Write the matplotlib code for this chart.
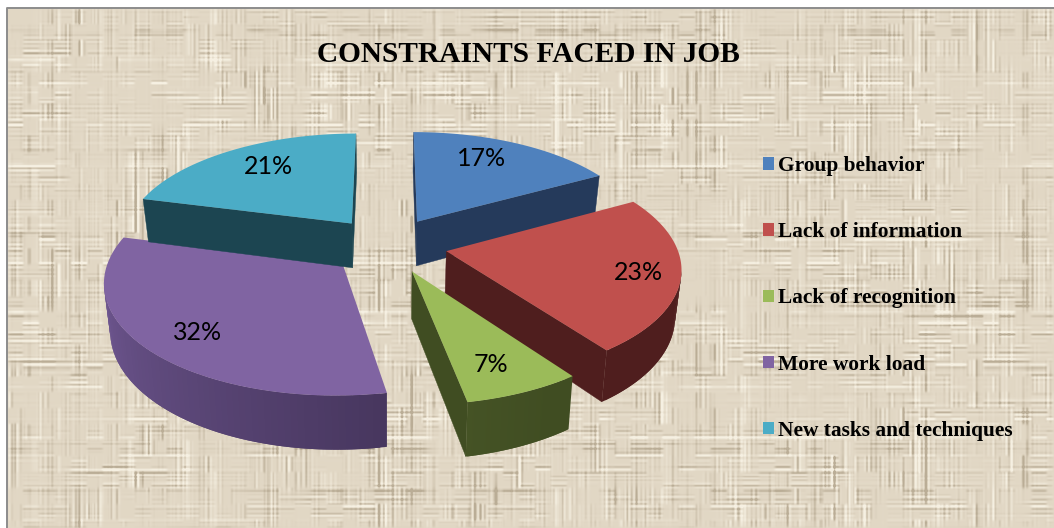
import numpy as np
import matplotlib
matplotlib.use("Agg")
import matplotlib.pyplot as plt
from matplotlib.colors import to_rgb
from matplotlib.patches import Patch, Polygon

# Survey responses, percent of respondents
categories = ["Group behavior", "Lack of information", "Lack of recognition",
              "More work load", "New tasks and techniques"]
shares = [17, 23, 7, 32, 21]

top_colors = ["#4f81bd", "#c0504d", "#9bbb59", "#8064a2", "#4bacc6"]
side_colors = ["#253a5b", "#4f1e1e", "#404d22", "#3f3054", "#1c4551"]
lit_rim_colors = ["#3a5a88", "#7a3230", "#5f7236", "#735a96", "#2f6c7d"]
draw_order = [3, 4, 0, 1, 2]

label_xy = [(482, 159), (638, 272), (491, 364), (198, 332), (268, 166)]

W, H = 1054, 528

# Projection of the tilted, exploded pie onto the page
CX, CY = 387.5, 245.0
AX_X, AX_Y = 230.0, 107.5
PERSP = 0.135
EXPLODE = 0.26
DEPTH = 45.5
BASE_SHRINK = 0.022


def project(x, y, lowered=False):
    s = 1.0 / (1.0 + PERSP * y)
    px = AX_X * x * s
    py = CY - AX_Y * y * s
    if lowered:
        px *= 1.0 - BASE_SHRINK
        py += DEPTH * s
    return CX + px, py


def linen_texture(h, w):
    rng = np.random.default_rng(11)

    def blur(a, size):
        kernel = np.hanning(size + 2)[1:-1]
        kernel /= kernel.sum()
        a = np.apply_along_axis(lambda r: np.convolve(r, kernel, "same"), 1, a)
        return np.apply_along_axis(lambda c: np.convolve(c, kernel, "same"), 0, a)

    def blocky(cell_w, cell_h, soften):
        # soft patches of weave density, stretched up to the full canvas
        coarse = rng.random((h // cell_h + 2, w // cell_w + 2))
        ys = np.arange(h) // cell_h
        xs = np.arange(w) // cell_w
        return blur(coarse[np.ix_(ys, xs)], soften)

    # threads sit on one lattice, so streaks line up across the whole cloth
    y = np.arange(h)[:, None]
    x = np.arange(w)[None, :]
    rows = rng.normal(size=h)[:, None] * (y % 3 != 1) + 0.9 * np.sin(y * 2 * np.pi / 4.6)
    cols = rng.normal(size=w)[None, :] * (x % 3 != 1) + 0.9 * np.sin(x * 2 * np.pi / 4.6)
    mask_h = np.clip(blocky(16, 6, 5) * 2.2 - 0.6, 0, 1) * blocky(60, 30, 21)
    mask_v = np.clip(blocky(6, 16, 5) * 2.2 - 0.6, 0, 1) * blocky(30, 60, 21)
    weave = rows * mask_h + cols * mask_v
    weave = blur(weave, 3)
    weave /= weave.std()

    tone = np.array([0.885, 0.845, 0.772])
    dark = np.array([0.73, 0.68, 0.59])
    light = np.array([0.965, 0.945, 0.89])
    t = np.clip(weave, -3.0, 3.0)[..., None] / 3.0
    return np.where(t < 0, tone + (-t) * (dark - tone), tone + t * (light - tone))


fig = plt.figure(figsize=(W / 100, H / 100), dpi=100, facecolor="white")
ax = fig.add_axes([0, 0, 1, 1])
ax.axis("off")

# Textured chart area with its thin grey frame
left, top = 7, 8
ax.imshow(linen_texture(H - top, W - left), extent=(left, W, H, top),
          aspect="auto", interpolation="bilinear", zorder=0)
ax.set_xlim(0, W)
ax.set_ylim(H, 0)
ax.plot([left, left, W], [H, top, top], color="#8c8c8c", lw=1.4, zorder=1)

# Turn the shares into slice angles, clockwise from twelve o'clock
fractions = np.array(shares) / sum(shares)
ends = np.cumsum(fractions) * 2 * np.pi
starts = ends - fractions * 2 * np.pi

for rank, i in enumerate(draw_order):
    mid = (starts[i] + ends[i]) / 2
    ox, oy = EXPLODE * np.sin(mid), EXPLODE * np.cos(mid)
    theta = np.linspace(starts[i], ends[i], 80)
    wx = np.r_[ox, ox + np.sin(theta)]
    wy = np.r_[oy, oy + np.cos(theta)]
    up = np.array(project(wx, wy)).T
    low = np.array(project(wx, wy, lowered=True)).T
    z = 2 + rank * 0.1
    n = len(up)
    side = np.array(to_rgb(side_colors[i]))
    lit = np.array(to_rgb(lit_rim_colors[i]))

    # Flat cut faces: the two straight edges of the slice
    for k in (0, n - 1):
        m = (k + 1) % n
        if up[m, 0] - up[k, 0] < 0:
            ax.add_patch(Polygon([up[k], up[m], low[m], low[k]], closed=True,
                                 facecolor=side, edgecolor=side, lw=0.3, zorder=z))

    # Outer rim, built from overlapping strips so no seams show
    for k in range(1, n - 2):
        if up[k + 1, 0] - up[k, 0] >= 0:   # rear part of the rim, hidden by the top face
            continue
        last = min(k + 2, n - 1)
        t = np.clip((np.degrees(theta[k - 1]) - 150) / 120, 0, 1)
        color = side + (lit - side) * t
        strip = np.vstack([up[k:last + 1], low[k:last + 1][::-1]])
        ax.add_patch(Polygon(strip, closed=True, facecolor=color, edgecolor="none",
                             zorder=z + 0.01 + k * 1e-4))

    ax.add_patch(Polygon(up, closed=True, facecolor=top_colors[i], edgecolor="none",
                         zorder=z + 0.05))

for value, (lx, ly) in zip(shares, label_xy):
    ax.text(lx, ly, f"{value}%", ha="center", va="center", fontsize=18,
            family="Lato", color="black", zorder=5)

ax.text(528, 54, "CONSTRAINTS FACED IN JOB", ha="center", va="center", fontsize=21.2,
        family="Liberation Serif", fontweight="bold", color="black", zorder=5)

handles = [Patch(facecolor=c, edgecolor="none") for c in top_colors]
ax.legend(handles, categories, loc="upper left", bbox_to_anchor=(763 / W, 1 - 156 / H),
          frameon=False, handlelength=0.52, handleheight=0.52, handletextpad=0.19,
          labelspacing=2.16, borderpad=0, borderaxespad=0,
          prop={"family": "Liberation Serif", "weight": "bold", "size": 15.4})

fig.savefig("out.png", dpi=100)
